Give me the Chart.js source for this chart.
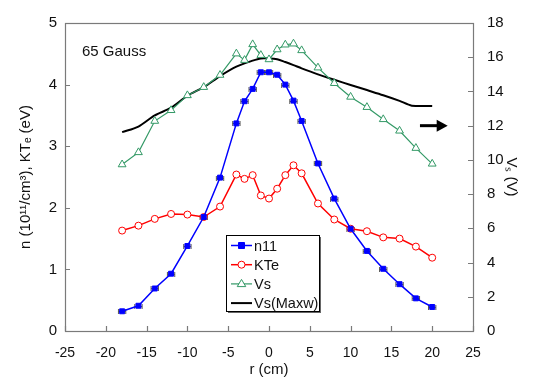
<!DOCTYPE html>
<html>
<head>
<meta charset="utf-8">
<script src="https://cdn.jsdelivr.net/npm/chart.js@4.4.1/dist/chart.umd.min.js"></script>
<style>
  html, body { margin: 0; padding: 0; background: #fff; }
  #wrap { width: 533px; height: 380px; }
</style>
</head>
<body>
<div id="wrap"><canvas id="grafico" width="533" height="380"></canvas></div>
<script>
// posições radiais (cm)
const rPontos = [-18, -16, -14, -12, -10, -8, -6, -4, -3, -2, -1, 0, 1, 2, 3, 4, 6, 8, 10, 12, 14, 16, 18, 20];
const n11 = [0.32, 0.41, 0.69, 0.93, 1.38, 1.85, 2.49, 3.37, 3.73, 3.93, 4.20, 4.20, 4.16, 4.00, 3.74, 3.41, 2.72, 2.15, 1.66, 1.30, 1.01, 0.76, 0.53, 0.39];
const kte = [1.63, 1.71, 1.82, 1.90, 1.89, 1.85, 2.02, 2.54, 2.47, 2.53, 2.20, 2.15, 2.31, 2.53, 2.69, 2.56, 2.07, 1.81, 1.66, 1.62, 1.52, 1.50, 1.37, 1.19];
const vs = [9.73, 10.44, 12.27, 12.9, 13.77, 14.25, 14.96, 16.21, 15.83, 16.75, 16.12, 15.87, 16.45, 16.73, 16.79, 16.4, 15.39, 14.48, 13.68, 13.08, 12.37, 11.7, 10.69, 9.77];

// curva Vs(Maxw)
const rMaxw = [-18, -16, -14, -12, -10, -8, -6, -4, -2, -1, 0, 1, 2, 3, 4, 6, 8, 10, 12, 14, 16, 17.5, 20];
const vsMaxw = [11.62, 11.95, 12.6, 13.05, 13.75, 14.25, 14.9, 15.45, 15.8, 15.93, 15.93, 15.88, 15.72, 15.54, 15.35, 15.0, 14.68, 14.38, 14.08, 13.78, 13.45, 13.17, 13.15];

const erroR = 0.45; // barra de erro horizontal (cm)

const ticksX = [-25, -20, -15, -10, -5, 0, 5, 10, 15, 20, 25];
const ticksN = [0, 1, 2, 3, 4, 5];
const ticksV = [0, 2, 4, 6, 8, 10, 12, 14, 16, 18];

const pares = (xs, ys) => xs.map((x, i) => ({ x: x, y: ys[i] }));
const fonte = 'Liberation Sans, Arial, sans-serif';
Chart.defaults.font.family = fonte;
Chart.defaults.font.size = 14;
Chart.defaults.color = '#111';

const usarTicks = lista => scale => { scale.ticks = lista.map(v => ({ value: v })); };

// moldura, marcas internas, barras de erro, legenda e anotações
const extras = {
    id: 'extras',
    beforeDatasetsDraw(chart) {
        const ctx = chart.ctx;
        const sx = chart.scales.x, sy = chart.scales.y;
        ctx.save();
        ctx.strokeStyle = '#555';
        ctx.lineWidth = 1;
        rPontos.forEach((r, i) => {
            const y = Math.round(sy.getPixelForValue(n11[i])) + 0.5;
            const x1 = sx.getPixelForValue(r - erroR), x2 = sx.getPixelForValue(r + erroR);
            ctx.beginPath();
            ctx.moveTo(x1, y); ctx.lineTo(x2, y);
            ctx.moveTo(x1, y - 2.5); ctx.lineTo(x1, y + 2.5);
            ctx.moveTo(x2, y - 2.5); ctx.lineTo(x2, y + 2.5);
            ctx.stroke();
        });
        ctx.restore();
    },
    afterDraw(chart) {
        const ctx = chart.ctx;
        const a = chart.chartArea;
        const sx = chart.scales.x, sy = chart.scales.y, sv = chart.scales.y2;
        ctx.save();
        // moldura
        ctx.strokeStyle = '#7a7a7a';
        ctx.lineWidth = 1.2;
        ctx.strokeRect(Math.round(a.left) + 0.5, Math.round(a.top) + 0.5, Math.round(a.right - a.left), Math.round(a.bottom - a.top));
        // marcas internas
        ctx.beginPath();
        ticksX.forEach(v => {
            const x = Math.round(sx.getPixelForValue(v)) + 0.5;
            ctx.moveTo(x, a.bottom); ctx.lineTo(x, a.bottom - 5);
        });
        ticksN.forEach(v => {
            const y = Math.round(sy.getPixelForValue(v)) + 0.5;
            ctx.moveTo(a.left, y); ctx.lineTo(a.left + 5, y);
        });
        ticksV.forEach(v => {
            const y = Math.round(sv.getPixelForValue(v)) + 0.5;
            ctx.moveTo(a.right, y); ctx.lineTo(a.right - 5, y);
        });
        ctx.stroke();

        // texto 65 Gauss
        ctx.fillStyle = '#111';
        ctx.font = '15px ' + fonte;
        ctx.textBaseline = 'middle';
        ctx.textAlign = 'left';
        ctx.fillText('65 Gauss', a.left + 17, a.top + 29);

        // seta apontando para o eixo direito
        const ya = sv.getPixelForValue(12);
        const xa1 = sx.getPixelForValue(18.5), xa2 = sx.getPixelForValue(21.9);
        ctx.strokeStyle = '#000';
        ctx.fillStyle = '#000';
        ctx.lineWidth = 3;
        ctx.beginPath();
        ctx.moveTo(xa1, ya); ctx.lineTo(xa2 - 8, ya);
        ctx.stroke();
        ctx.beginPath();
        ctx.moveTo(xa2, ya); ctx.lineTo(xa2 - 11, ya - 6); ctx.lineTo(xa2 - 11, ya + 6);
        ctx.closePath();
        ctx.fill();

        // legenda
        const lx = a.left + 161, ly = a.top + 212, lw = 93, lh = 76;
        ctx.fillStyle = '#666';
        ctx.fillRect(lx + 2, ly + 2, lw, lh);
        ctx.fillStyle = '#fff';
        ctx.fillRect(lx, ly, lw, lh);
        ctx.strokeStyle = '#000';
        ctx.lineWidth = 1;
        ctx.strokeRect(lx + 0.5, ly + 0.5, lw, lh);
        chart.data.datasets.forEach((ds, i) => {
            const y = ly + 10.5 + i * 19.2;
            const x1 = lx + 5, x2 = lx + 26, xm = (x1 + x2) / 2;
            ctx.strokeStyle = ds.borderColor;
            ctx.lineWidth = ds.borderWidth;
            ctx.beginPath();
            ctx.moveTo(x1, y); ctx.lineTo(x2, y);
            ctx.stroke();
            if (ds.pointRadius > 0) {
                ctx.fillStyle = ds.pointBackgroundColor;
                ctx.strokeStyle = ds.pointBorderColor;
                ctx.lineWidth = 1;
                const r = ds.pointRadius;
                ctx.beginPath();
                if (ds.pointStyle === 'rect') {
                    ctx.rect(xm - r + 0.5, y - r + 0.5, 2 * r - 1, 2 * r - 1);
                } else if (ds.pointStyle === 'circle') {
                    ctx.arc(xm, y, r, 0, Math.PI * 2);
                } else {
                    ctx.moveTo(xm, y - r); ctx.lineTo(xm + r * 0.95, y + r * 0.6); ctx.lineTo(xm - r * 0.95, y + r * 0.6);
                    ctx.closePath();
                }
                ctx.fill();
                ctx.stroke();
            }
            ctx.fillStyle = '#111';
            ctx.font = '14.5px ' + fonte;
            ctx.textBaseline = 'middle';
            ctx.fillText(ds.label, x2 + 2, y + 1);
        });
        ctx.restore();
    }
};

const ctx = document.getElementById('grafico').getContext('2d');
const grafico = new Chart(ctx, {
    type: 'line',
    data: {
        datasets: [{
            label: 'n11',
            data: pares(rPontos, n11),
            yAxisID: 'y',
            borderColor: '#0000ff',
            borderWidth: 1.5,
            pointStyle: 'rect',
            pointRadius: 3.5,
            pointBackgroundColor: '#0000ff',
            pointBorderColor: '#0000ff',
            pointBorderWidth: 1,
            tension: 0
        }, {
            label: 'KTe',
            data: pares(rPontos, kte),
            yAxisID: 'y',
            borderColor: '#ff0000',
            borderWidth: 1.5,
            pointStyle: 'circle',
            pointRadius: 3.5,
            pointBackgroundColor: '#ffffff',
            pointBorderColor: '#ff0000',
            pointBorderWidth: 1,
            tension: 0
        }, {
            label: 'Vs',
            data: pares(rPontos, vs),
            yAxisID: 'y2',
            borderColor: '#339966',
            borderWidth: 1.2,
            pointStyle: 'triangle',
            pointRadius: 4.5,
            pointBackgroundColor: '#ffffff',
            pointBorderColor: '#339966',
            pointBorderWidth: 1,
            tension: 0
        }, {
            label: 'Vs(Maxw)',
            data: pares(rMaxw, vsMaxw),
            yAxisID: 'y2',
            borderColor: '#000000',
            borderWidth: 2,
            pointRadius: 0,
            tension: 0.3
        }]
    },
    options: {
        responsive: false,
        animation: false,
        layout: { padding: { top: 19, right: 0, bottom: 0, left: 0 } },
        plugins: { legend: { display: false }, tooltip: { enabled: false } },
        scales: {
            x: {
                type: 'linear',
                min: -25, max: 25,
                afterBuildTicks: usarTicks(ticksX),
                afterFit: s => { s.height = 49; },
                grid: { display: false, drawTicks: false },
                border: { display: false },
                ticks: { padding: 14, maxRotation: 0, font: { size: 14 } },
                title: { display: true, text: 'r (cm)', font: { size: 15 }, padding: { top: 0, bottom: 1 } }
            },
            y: {
                position: 'left',
                min: 0, max: 5,
                afterBuildTicks: usarTicks(ticksN),
                afterFit: s => { s.width = 65; },
                grid: { display: false, drawTicks: false },
                border: { display: false },
                ticks: { padding: 8, font: { size: 15 } },
                title: { display: true, text: 'n (10¹¹/cm³), KTₑ (eV)', font: { size: 15 }, padding: { top: 17, bottom: 0 } }
            },
            y2: {
                position: 'right',
                min: 0, max: 18,
                afterBuildTicks: usarTicks(ticksV),
                afterFit: s => { s.width = 60; },
                grid: { display: false, drawTicks: false },
                border: { display: false },
                ticks: { padding: 14, font: { size: 15 } },
                title: { display: true, text: 'Vₛ (V)', font: { size: 15 }, padding: { top: 13, bottom: 0 } }
            }
        }
    },
    plugins: [extras]
});
</script>
</body>
</html>
